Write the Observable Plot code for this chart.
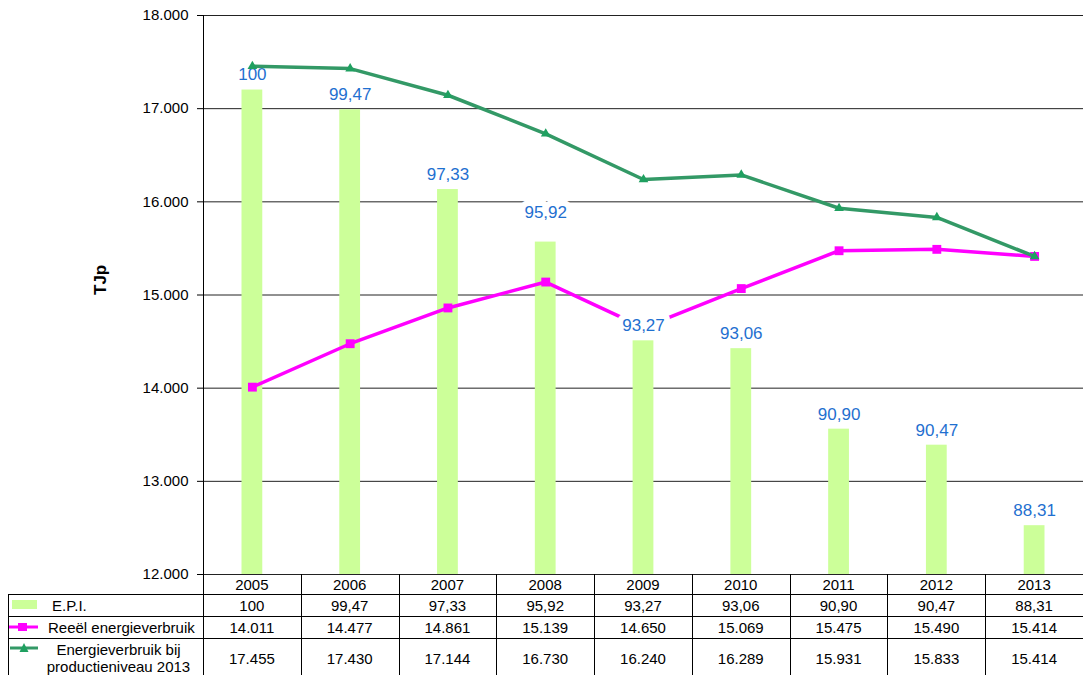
<!DOCTYPE html>
<html><head><meta charset="utf-8">
<script src="https://cdn.jsdelivr.net/npm/d3@7"></script>
<script src="https://cdn.jsdelivr.net/npm/@observablehq/plot@0.6"></script>
<style>
body{margin:0;background:#fff;font-family:"Liberation Sans",Arial,sans-serif;}
#wrap{position:relative;width:1083px;height:675px;overflow:hidden;background:#fff;}
#wrap > svg{position:absolute;left:0;top:0;}
.cell{position:absolute;font-size:15px;color:#000;display:flex;align-items:center;justify-content:center;text-align:center;line-height:17px;white-space:nowrap;}
.ln{position:absolute;background:#000;}
</style></head><body><div id="wrap"></div>
<script>
// ---- data ----
const years = ["2005","2006","2007","2008","2009","2010","2011","2012","2013"];
const epi = [100, 99.47, 97.33, 95.92, 93.27, 93.06, 90.90, 90.47, 88.31];
const epiLabels = ["100","99,47","97,33","95,92","93,27","93,06","90,90","90,47","88,31"];
const reeel = [14011, 14477, 14861, 15139, 14650, 15069, 15475, 15490, 15414];
const prod = [17455, 17430, 17144, 16730, 16240, 16289, 15931, 15833, 15414];
const yTicks = [12000, 13000, 14000, 15000, 16000, 17000, 18000];
const epiAxis = [87, 102]; // hidden secondary axis for E.P.I. bars

const loc = d3.formatLocale({decimal: ",", thousands: ".", grouping: [3], currency: ["", ""]});
const fmt = loc.format(",d");
const y2 = d3.scaleLinear(epiAxis, [12000, 18000]);
const data = years.map((yr, i) => ({year: yr, epi: epi[i], epiY: y2(epi[i]), label: epiLabels[i], reeel: reeel[i], prod: prod[i]}));

const font = '"Liberation Sans", Arial, sans-serif';
const labelStyle = {x: "year", y: "epiY", text: "label", fill: "#1f70d0", fontSize: 17, stroke: "white", strokeWidth: 12};
const chart = Plot.plot({
  width: 1083, height: 575,
  marginLeft: 203, marginRight: 0, marginTop: 15, marginBottom: 1,
  style: {fontFamily: font, fontSize: "15px", color: "#000", background: "transparent", overflow: "visible"},
  x: {type: "band", domain: years, padding: 0, round: false, axis: null},
  y: {domain: [12000, 18000]},
  marks: [
    Plot.ruleY(yTicks, {stroke: "#222", strokeWidth: 1}),
    Plot.axisY({ticks: yTicks, tickFormat: fmt, tickSize: 6, tickPadding: 9, fontSize: 15, label: null, stroke: "#000"}),
    Plot.frame({anchor: "left", stroke: "#000"}),
    Plot.barY(data, {x: "year", y1: 12000, y2: "epiY", fill: "#ccff99", insetLeft: 38.5, insetRight: 38.5}),
    Plot.line(data, {x: "year", y: "reeel", stroke: "#ff00ff", strokeWidth: 3.5}),
    Plot.dot(data, {x: "year", y: "reeel", symbol: "square", r: 5, fill: "#ff00ff", stroke: null}),
    Plot.text(data, {...labelStyle, filter: d => d.year !== "2008", dy: -15}),
    Plot.text(data, {...labelStyle, filter: d => d.year === "2008", dy: -30}),
    Plot.line(data, {x: "year", y: "prod", stroke: "#339966", strokeWidth: 3.5}),
    Plot.dot(data, {x: "year", y: "prod", symbol: "triangle", r: 3.6, fill: "#1fa060", stroke: null}),
    Plot.text(["TJp"], {frameAnchor: "left", dx: -103, rotate: -90, fontWeight: "bold", fontSize: 17, fill: "#000"})
  ]
});
const wrap = document.getElementById("wrap");
wrap.appendChild(chart);

// ---- data table below the chart ----
const xs = chart.scale("x");
const step = xs.step ?? xs.bandwidth;
const left0 = 8, tableTop = 574;
const rows = [
  {h: 20, key: null, name: null, vals: years},
  {h: 22, key: "epi", name: "E.P.I.", vals: epiLabels},
  {h: 22, key: "reeel", name: "Reeël energieverbruik", vals: reeel.map(fmt)},
  {h: 40, key: "prod", name: "Energieverbruik bij<br>productieniveau 2013", vals: prod.map(fmt)}
];
function addLine(x, y, w, h) {
  const d = document.createElement("div");
  d.className = "ln";
  Object.assign(d.style, {left: x + "px", top: y + "px", width: w + "px", height: h + "px"});
  wrap.appendChild(d);
}
function addCell(x, y, w, h, html, extra) {
  const d = document.createElement("div");
  d.className = "cell";
  Object.assign(d.style, {left: x + "px", top: y + "px", width: w + "px", height: h + "px"}, extra || {});
  d.innerHTML = html;
  wrap.appendChild(d);
}
let rowTop = tableTop;
rows.forEach((r, ri) => {
  years.forEach((yr, i) => {
    const x0 = xs.apply(yr);
    addCell(x0, rowTop, step, r.h, r.vals[i]);
  });
  if (r.name) {
    let key = "";
    if (r.key === "epi") key = `<svg width="30" height="12" style="position:absolute;left:4px;top:${(r.h-12)/2}px"><rect x="0" y="1" width="25" height="9" fill="#ccff99"/></svg>`;
    if (r.key === "reeel") key = `<svg width="34" height="12" style="position:absolute;left:0px;top:${(r.h-12)/2}px"><line x1="0" x2="30" y1="6" y2="6" stroke="#ff00ff" stroke-width="3"/><rect x="10" y="2" width="9" height="8" fill="#ff00ff"/></svg>`;
    if (r.key === "prod") key = `<svg width="34" height="12" style="position:absolute;left:2px;top:4px"><line x1="0" x2="28" y1="6" y2="6" stroke="#339966" stroke-width="3"/><path d="M14,1 L18.5,10 L9.5,10 Z" fill="#1fa060"/></svg>`;
    addCell(left0, rowTop, 203 - left0, r.h, key, {justifyContent: "flex-start"});
    if (r.key === "prod") addCell(left0 + 28, rowTop, 165, r.h, r.name);
    else addCell(left0 + (r.key === "epi" ? 44 : 40), rowTop, 160, r.h, r.name, {justifyContent: "flex-start"});
  }
  rowTop += r.h;
});
// grid lines of the table
let yy = tableTop;
rows.forEach((r, ri) => {
  if (ri > 0) addLine(left0, yy, 1083 - left0, 1);
  yy += r.h;
});
years.forEach((yr, i) => {
  if (i > 0) addLine(Math.round(xs.apply(yr)), tableTop, 1, 675 - tableTop);
});
addLine(203, tableTop, 1, 675 - tableTop);
addLine(left0, tableTop + rows[0].h, 1, 675 - tableTop - rows[0].h);
</script></body></html>
